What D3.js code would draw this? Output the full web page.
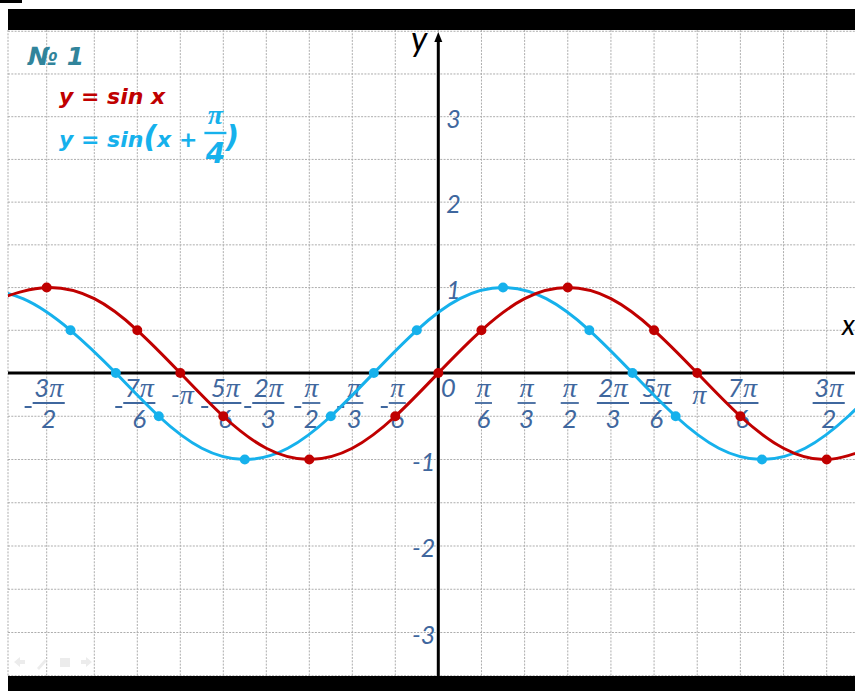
<!DOCTYPE html>
<html>
<head>
<meta charset="utf-8">
<script src="https://cdn.jsdelivr.net/npm/d3@7"></script>
<style>
  html, body { margin: 0; padding: 0; background: #fff; }
  svg { display: block; }
</style>
</head>
<body>
<svg id="chart" width="855" height="691"></svg>
<script>
// all x values are in units of pi/12
const redDotX  = [-18, -14, -12, -10, -6, -2, 0, 2, 6, 10, 12, 14, 18];
const redDotY  = [1, 0.5, 0, -0.5, -1, -0.5, 0, 0.5, 1, 0.5, 0, -0.5, -1];
const cyanDotX = [-17, -15, -13, -9, -5, -3, -1, 3, 7, 9, 11, 15];
const cyanDotY = [0.5, 0, -0.5, -1, -0.5, 0, 0.5, 1, 0.5, 0, -0.5, -1];

// points the smooth curves go through (every pi/6)
const redCurveX  = [-20, -18, -16, -14, -12, -10, -8, -6, -4, -2, 0, 2, 4, 6, 8, 10, 12, 14, 16, 18, 20];
const redCurveY  = [0.87, 1, 0.87, 0.5, 0, -0.5, -0.87, -1, -0.87, -0.5, 0, 0.5, 0.87, 1, 0.87, 0.5, 0, -0.5, -0.87, -1, -0.87];
const cyanCurveX = [-21, -19, -17, -15, -13, -11, -9, -7, -5, -3, -1, 1, 3, 5, 7, 9, 11, 13, 15, 17, 19, 21];
const cyanCurveY = [1, 0.87, 0.5, 0, -0.5, -0.87, -1, -0.87, -0.5, 0, 0.5, 0.87, 1, 0.87, 0.5, 0, -0.5, -0.87, -1, -0.87, -0.5, 0];

// x tick labels: numerator / denominator ('' = no fraction)
const xTickPos = [-18, -14, -12, -10, -8, -6, -4, -2, 0, 2, 4, 6, 8, 10, 12, 14, 18];
const xTickNum = ['3π', '7π', 'π', '5π', '2π', 'π', 'π', 'π', '0', 'π', 'π', 'π', '2π', '5π', 'π', '7π', '3π'];
const xTickDen = ['2', '6', '', '6', '3', '2', '3', '6', '', '6', '3', '2', '3', '6', '', '6', '2'];
const yTicks = [3, 2, 1, -1, -2, -3];

const W = 855, H = 691;
const plotL = 8, plotT = 30, plotB = 676;
const RED = '#c00000', CYAN = '#16b1ec', LABEL = '#3f679e', TEAL = '#31849b';
const numFont = 'Lato, "Open Sans", sans-serif';
const titleFont = '"DejaVu Sans", sans-serif';
const piFont = '"Liberation Serif", "DejaVu Serif", serif';

const svg = d3.select('#chart');

const x = d3.scaleLinear().domain([-18, -16, 0, 18]).range([46.7, 94.3, 438.3, 826.7]);
const y = d3.scaleLinear().domain([-3, 0, 3]).range([632.5, 373, 116.7]);
const x0 = x(0), y0 = y(0);

svg.append('rect').attr('width', W).attr('height', H).attr('fill', '#fff');

// grid
const grid = svg.append('g')
  .attr('stroke', '#adadad')
  .attr('stroke-width', 1)
  .attr('stroke-dasharray', '2,1.3');
grid.selectAll('line.h')
  .data(d3.range(-3.5, 4.01, 0.5))
  .enter().append('line')
  .attr('x1', plotL).attr('x2', W)
  .attr('y1', d => y(d)).attr('y2', d => y(d));
grid.selectAll('line.v')
  .data(d3.range(-18, 20, 2))
  .enter().append('line')
  .attr('x1', d => x(d)).attr('x2', d => x(d))
  .attr('y1', plotT).attr('y2', plotB);
grid.append('line')
  .attr('x1', plotL).attr('x2', plotL)
  .attr('y1', plotT).attr('y2', plotB);

// black bars
svg.append('rect').attr('x', 0).attr('y', 0).attr('width', 22).attr('height', 3).attr('fill', '#000');
svg.append('rect').attr('x', plotL).attr('y', 9).attr('width', W - plotL).attr('height', 21).attr('fill', '#000');
svg.append('rect').attr('x', plotL).attr('y', plotB).attr('width', W - plotL).attr('height', H - plotB).attr('fill', '#000');

// faint slide controls
const ctl = svg.append('g').attr('fill', '#ececec');
ctl.append('path').attr('d', 'M14,662 l6,-5 v3 h5 v4 h-5 v3 z');
ctl.append('path').attr('d', 'M37,668 l8,-9 l2,2 l-8,9 z');
ctl.append('rect').attr('x', 60).attr('y', 658).attr('width', 10).attr('height', 9);
ctl.append('path').attr('d', 'M92,662 l-6,-5 v3 h-5 v4 h5 v3 z');

// axes
svg.append('line')
  .attr('x1', plotL).attr('x2', W).attr('y1', y0).attr('y2', y0)
  .attr('stroke', '#000').attr('stroke-width', 3);
svg.append('line')
  .attr('x1', x0).attr('x2', x0).attr('y1', plotB).attr('y2', 38)
  .attr('stroke', '#000').attr('stroke-width', 3);
svg.append('path')
  .attr('d', `M${x0},32 L${x0 - 4},42 L${x0 + 4},42 Z`)
  .attr('fill', '#000');

svg.append('text').text('y')
  .attr('x', 411).attr('y', 51)
  .attr('font-family', numFont).attr('font-style', 'italic')
  .attr('font-size', 34).attr('fill', '#000');
svg.append('text').text('x')
  .attr('x', 842).attr('y', 335)
  .attr('font-family', numFont).attr('font-style', 'italic')
  .attr('font-size', 28).attr('fill', '#000');

// y tick labels
svg.append('g').selectAll('text')
  .data(yTicks)
  .enter().append('text')
  .attr('x', d => d > 0 ? x0 + 8 : x0 - 3)
  .attr('y', d => y(d) + 11)
  .attr('text-anchor', d => d > 0 ? 'start' : 'end')
  .attr('font-family', numFont).attr('font-style', 'italic')
  .attr('font-size', 25).attr('fill', LABEL)
  .text(d => d < 0 ? '-' + Math.abs(d) : d);

// write a string with π in serif italic
function writeNum(sel, str) {
  str.split(/(π)/).filter(s => s.length).forEach(part => {
    sel.append('tspan')
      .attr('font-family', part === 'π' ? piFont : numFont)
      .attr('font-size', part === 'π' ? 28 : 26)
      .text(part);
  });
  return sel;
}

// x tick labels
const xl = svg.append('g').attr('fill', LABEL).attr('font-style', 'italic');
xTickPos.forEach((p, i) => {
  const neg = p < 0;
  const cx = x(p) + 2;
  if (xTickDen[i] === '') {
    const t = xl.append('text').attr('text-anchor', 'middle')
      .attr('x', p === 0 ? cx + 8 : cx).attr('y', p === 0 ? 397 : 404);
    writeNum(t, (neg ? '-' : '') + xTickNum[i]);
    return;
  }
  const num = writeNum(xl.append('text').attr('text-anchor', 'middle').attr('x', cx).attr('y', 397), xTickNum[i]);
  const den = writeNum(xl.append('text').attr('text-anchor', 'middle').attr('x', cx).attr('y', 428), xTickDen[i]);
  const w = Math.max(num.node().getComputedTextLength(), den.node().getComputedTextLength()) + 3;
  xl.append('line')
    .attr('x1', cx - w / 2).attr('x2', cx + w / 2)
    .attr('y1', 403).attr('y2', 403)
    .attr('stroke', LABEL).attr('stroke-width', 1.8);
  if (neg) {
    xl.append('line')
      .attr('x1', cx - w / 2 - 8).attr('x2', cx - w / 2 - 1)
      .attr('y1', 407).attr('y2', 407)
      .attr('stroke', LABEL).attr('stroke-width', 2);
  }
});

// curves
svg.append('clipPath').attr('id', 'plot')
  .append('rect').attr('x', plotL).attr('y', plotT).attr('width', W - plotL).attr('height', plotB - plotT);

const line = d3.line()
  .x(d => x(d[0]))
  .y(d => y(d[1]))
  .curve(d3.curveNatural);

const curves = svg.append('g').attr('clip-path', 'url(#plot)').attr('fill', 'none').attr('stroke-width', 3);
curves.append('path')
  .attr('d', line(d3.zip(cyanCurveX, cyanCurveY)))
  .attr('stroke', CYAN);
curves.append('path')
  .attr('d', line(d3.zip(redCurveX, redCurveY)))
  .attr('stroke', RED);

svg.append('g').selectAll('circle')
  .data(d3.zip(cyanDotX, cyanDotY))
  .enter().append('circle')
  .attr('cx', d => x(d[0])).attr('cy', d => y(d[1]))
  .attr('r', 5).attr('fill', CYAN);
svg.append('g').selectAll('circle')
  .data(d3.zip(redDotX, redDotY))
  .enter().append('circle')
  .attr('cx', d => x(d[0])).attr('cy', d => y(d[1]))
  .attr('r', 5).attr('fill', RED);

// title and formulas
const bold = sel => sel.attr('font-family', titleFont).attr('font-weight', 700).attr('font-style', 'italic');
bold(svg.append('text')).text('№ 1')
  .attr('x', 28).attr('y', 65).attr('font-size', 25).attr('fill', TEAL);
bold(svg.append('text')).text('y = sin x')
  .attr('x', 59).attr('y', 104).attr('font-size', 22).attr('fill', RED);

const f2 = bold(svg.append('text'))
  .attr('x', 59).attr('y', 147).attr('font-size', 22).attr('fill', CYAN);
f2.append('tspan').text('y = sin');
f2.append('tspan').text('(').attr('font-size', 30);
f2.append('tspan').text('x +');
const fx = 59 + f2.node().getComputedTextLength() + 18;
svg.append('text').text('π')
  .attr('x', fx).attr('y', 124).attr('text-anchor', 'middle')
  .attr('font-family', piFont).attr('font-style', 'italic').attr('font-weight', 700)
  .attr('font-size', 28).attr('fill', CYAN);
svg.append('line')
  .attr('x1', fx - 11).attr('x2', fx + 11).attr('y1', 133).attr('y2', 133)
  .attr('stroke', CYAN).attr('stroke-width', 2.4);
bold(svg.append('text')).text('4')
  .attr('x', fx).attr('y', 163).attr('text-anchor', 'middle')
  .attr('font-size', 28).attr('fill', CYAN);
bold(svg.append('text')).text(')')
  .attr('x', fx + 10).attr('y', 147).attr('font-size', 30).attr('fill', CYAN);
</script>
</body>
</html>
